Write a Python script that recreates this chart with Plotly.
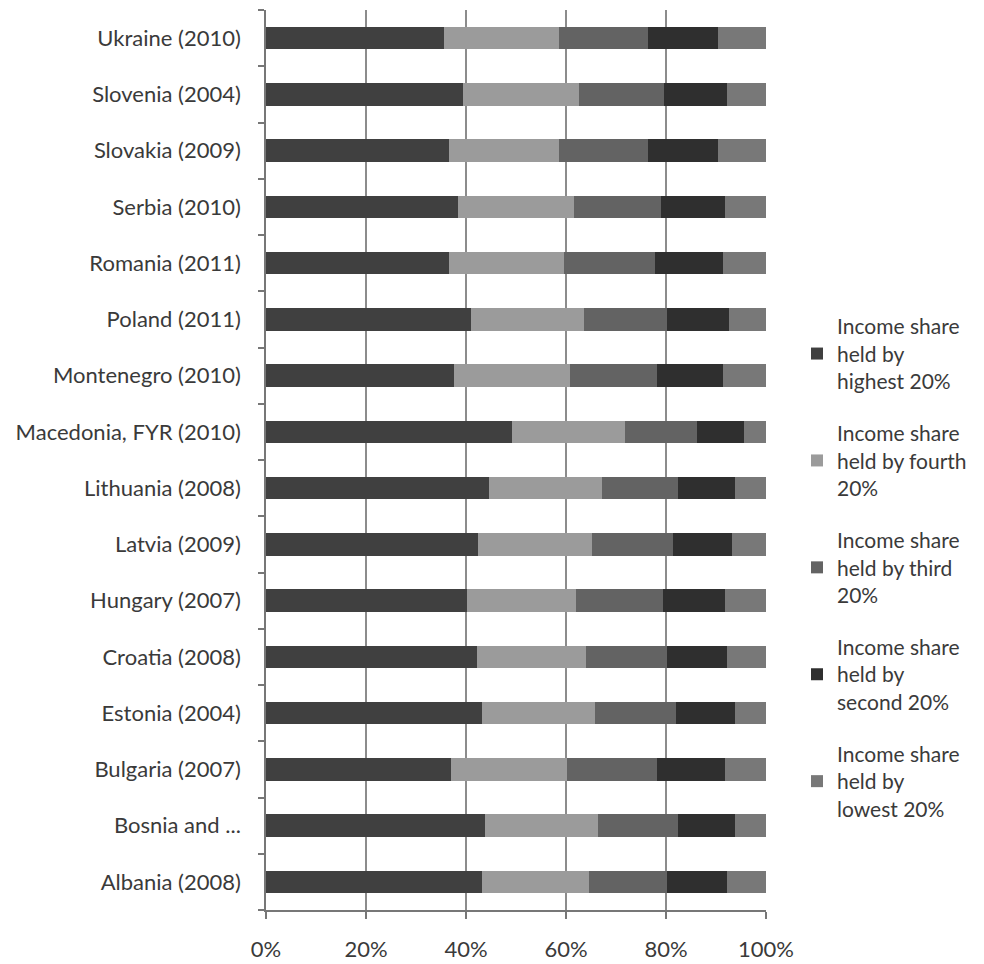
import plotly.graph_objects as go

countries = [
    "Albania (2008)", "Bosnia and ...", "Bulgaria (2007)", "Estonia (2004)",
    "Croatia (2008)", "Hungary (2007)", "Latvia (2009)", "Lithuania (2008)",
    "Macedonia, FYR (2010)", "Montenegro (2010)", "Poland (2011)",
    "Romania (2011)", "Serbia (2010)", "Slovakia (2009)", "Slovenia (2004)",
    "Ukraine (2010)",
]

highest = [43.2, 43.7, 37.0, 43.2, 42.1, 40.2, 42.4, 44.6, 49.2, 37.6, 40.9, 36.5, 38.3, 36.5, 39.4, 35.6]
fourth  = [21.3, 22.6, 23.2, 22.6, 21.9, 21.8, 22.7, 22.5, 22.5, 23.1, 22.7, 23.0, 23.2, 22.0, 23.1, 22.9]
third   = [15.6, 16.1, 17.9, 16.1, 16.1, 17.3, 16.3, 15.3, 14.4, 17.4, 16.5, 18.3, 17.4, 17.9, 17.1, 17.8]
second  = [12.0, 11.3, 13.6, 11.8, 12.0, 12.4, 11.8, 11.3, 9.4, 13.3, 12.4, 13.6, 12.8, 14.0, 12.5, 14.1]
lowest  = [7.9, 6.3, 8.3, 6.3, 7.9, 8.3, 6.8, 6.3, 4.5, 8.6, 7.5, 8.6, 8.3, 9.6, 7.9, 9.6]

series_names = [
    "Income share<br>held by<br>highest 20%",
    "Income share<br>held by fourth<br>20%",
    "Income share<br>held by third<br>20%",
    "Income share<br>held by<br>second 20%",
    "Income share<br>held by<br>lowest 20%",
]
series_values = [highest, fourth, third, second, lowest]
colors = ["#404040", "#9b9b9b", "#636363", "#2f2f2f", "#787878"]

FONT = "Lato, Liberation Sans, sans-serif"

fig = go.Figure()
for i, (name, vals, col) in enumerate(zip(series_names, series_values, colors)):
    fig.add_trace(go.Bar(
        y=countries, x=vals, name=name, orientation="h",
        marker=dict(color=col, line=dict(width=0)),
        legendgroup=f"g{i}",
    ))

fig.update_layout(
    barmode="stack",
    barnorm="percent",
    bargap=0.6,
    width=984, height=964,
    margin=dict(l=266, r=218, t=10, b=54),
    paper_bgcolor="white", plot_bgcolor="white",
    font=dict(family=FONT, size=22, color="#3a3a3a"),
    legend=dict(
        x=1.062, xanchor="left", y=0.671, yanchor="top",
        traceorder="grouped", tracegroupgap=22,
        font=dict(family=FONT, size=21, color="#3a3a3a"),
        itemsizing="constant",
    ),
    xaxis=dict(
        range=[0, 100], tickvals=[0, 20, 40, 60, 80, 100],
        ticktext=["0%", "20%", "40%", "60%", "80%", "100%"],
        showgrid=True, gridcolor="#8c8c8c", gridwidth=1.5,
        showline=True, linecolor="#777777", linewidth=1.5,
        ticks="outside", ticklen=7, tickcolor="#777777", tickwidth=1.5,
        ticklabelstandoff=12, zeroline=False, automargin=False,
    ),
    yaxis=dict(
        categoryorder="array", categoryarray=countries,
        showline=True, linecolor="#777777", linewidth=1.5,
        ticks="outside", tickson="boundaries", ticklen=6,
        tickcolor="#777777", tickwidth=1.5,
        ticklabelstandoff=19, showgrid=False, automargin=False,
    ),
)

fig.write_html("out.html")
